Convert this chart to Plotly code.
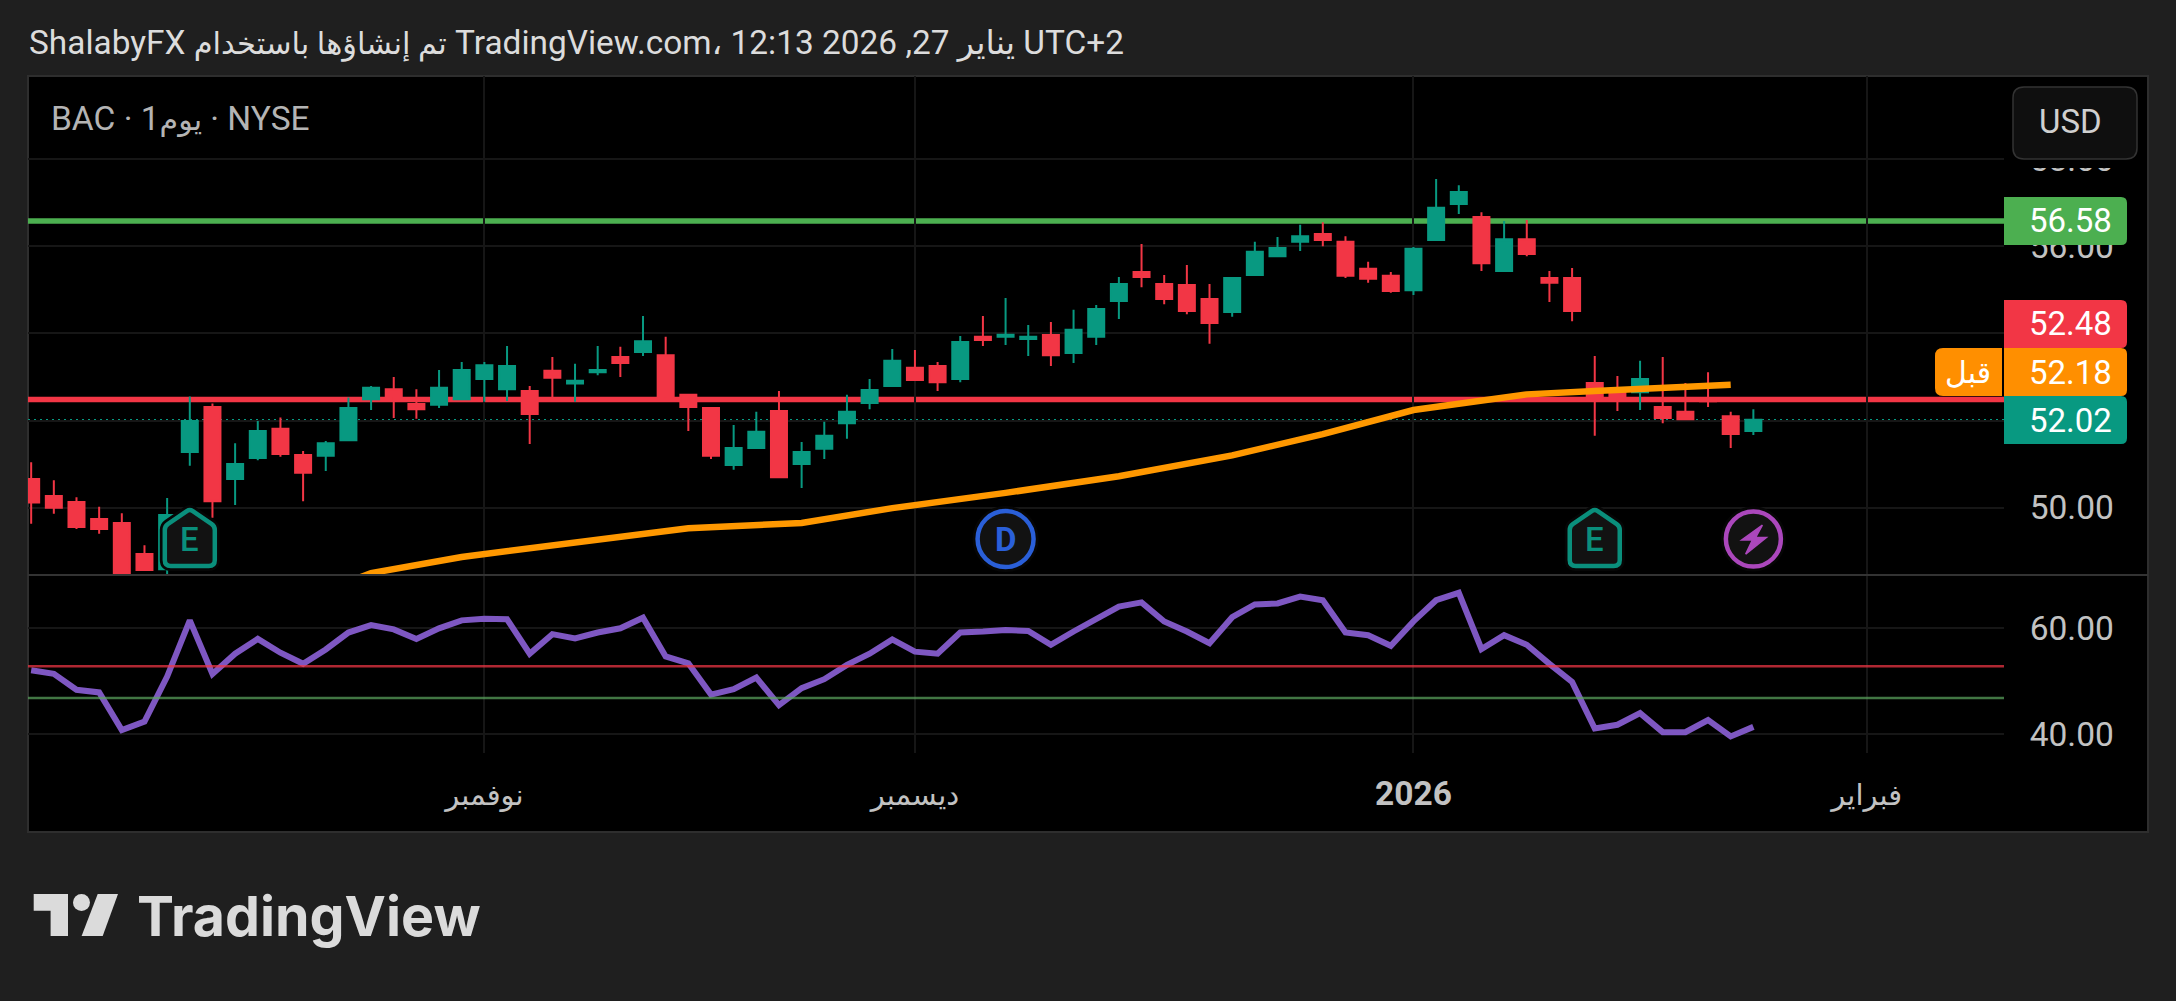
#!/usr/bin/env python3
import plotly.graph_objects as go

WIDTH = 2176
HEIGHT = 1001
FONT = "Roboto, 'Noto Sans', 'DejaVu Sans', sans-serif"

# candles, one per session
openVals = [50.66, 50.27, 50.13, 49.74, 49.65, 48.94, 48.59, 51.28, 52.31, 50.66, 51.14, 51.81, 51.21, 51.19, 51.55, 52.49, 52.72, 52.38, 52.36, 52.49,
	52.95, 52.72, 52.68, 53.14, 52.85, 53.11, 53.46, 53.57, 53.50, 52.59, 52.29, 50.98, 51.37, 52.22, 51.00, 51.35, 51.94, 52.40, 52.79, 53.21,
	53.25, 52.95, 53.92, 53.92, 53.87, 53.96, 53.55, 53.92, 54.74, 55.41, 55.13, 55.11, 54.79, 54.49, 55.34, 55.77, 56.10, 56.28, 56.10, 55.48,
	55.32, 54.99, 56.14, 56.97, 56.67, 55.43, 56.16, 55.27, 55.27, 52.86, 52.70, 52.65, 52.31, 52.20, 52.49, 52.10, 51.76]
highVals = [51.04, 50.63, 50.24, 50.02, 49.87, 49.14, 50.22, 52.55, 52.39, 51.48, 51.99, 52.07, 51.30, 51.53, 52.53, 52.79, 53.00, 52.72, 53.16, 53.34,
	53.34, 53.71, 52.79, 53.46, 53.30, 53.71, 53.69, 54.40, 53.92, 52.60, 52.29, 51.90, 52.20, 52.68, 51.51, 51.97, 52.59, 52.95, 53.64, 53.62,
	53.34, 53.94, 54.40, 54.81, 54.19, 54.26, 54.54, 54.65, 55.29, 56.05, 55.34, 55.57, 55.13, 55.29, 56.10, 56.21, 56.49, 56.55, 56.23, 55.64,
	55.41, 55.98, 57.54, 57.40, 56.78, 56.58, 56.60, 55.43, 55.50, 53.48, 53.02, 53.37, 53.46, 52.86, 53.11, 52.20, 52.26]
lowVals = [49.63, 49.86, 49.51, 49.40, 48.38, 48.56, 48.48, 50.96, 49.77, 50.06, 51.09, 51.17, 50.15, 50.84, 51.55, 52.24, 52.06, 52.04, 52.29, 52.49,
	52.43, 52.45, 51.46, 52.49, 52.43, 53.04, 53.00, 53.48, 52.52, 51.76, 51.12, 50.87, 51.37, 50.70, 50.45, 51.12, 51.58, 52.26, 52.77, 52.93,
	52.68, 52.88, 53.71, 53.73, 53.48, 53.25, 53.32, 53.73, 54.33, 55.06, 54.67, 54.44, 53.76, 54.38, 55.34, 55.77, 55.89, 56.00, 55.27, 55.16,
	54.93, 54.88, 56.12, 56.74, 55.43, 55.43, 55.77, 54.72, 54.28, 51.65, 52.22, 52.24, 51.94, 52.03, 52.31, 51.37, 51.67]
closeVals = [50.12, 50.00, 49.56, 49.51, 48.45, 48.57, 49.83, 51.99, 50.15, 51.00, 51.76, 51.23, 50.80, 51.48, 52.29, 52.75, 52.56, 52.26, 52.75, 53.16,
	53.27, 53.25, 52.15, 52.98, 52.91, 53.16, 53.32, 53.82, 52.56, 52.31, 51.19, 51.37, 51.74, 50.70, 51.28, 51.65, 52.20, 52.70, 53.37, 52.93,
	52.88, 53.80, 53.85, 53.97, 53.92, 53.50, 54.08, 54.56, 55.13, 55.29, 54.79, 54.51, 54.24, 55.27, 55.87, 55.96, 56.23, 56.14, 55.32, 55.25,
	54.97, 55.94, 56.88, 57.24, 55.61, 56.16, 55.82, 55.16, 54.51, 52.47, 52.54, 52.95, 52.06, 52.03, 52.44, 51.69, 52.02]

# moving average, read at its kinks
maIdx = [14, 15, 19, 24, 29, 34, 38, 43, 48, 53, 57, 61, 66, 69, 75]
maVals = [48.30, 48.50, 48.87, 49.21, 49.53, 49.65, 49.99, 50.34, 50.72, 51.20, 51.69, 52.24, 52.60, 52.68, 52.82]

# lower pane oscillator
rsiVals = [52.1, 51.4, 48.4, 47.9, 40.8, 42.4, 50.9, 61.5, 51.4, 55.2, 58.0, 55.4, 53.3, 56.0, 59.2, 60.6, 59.8, 58.0, 60.0, 61.5,
	61.8, 61.7, 55.2, 58.9, 58.1, 59.2, 60.0, 62.0, 54.7, 53.4, 47.5, 48.5, 50.7, 45.5, 48.7, 50.4, 53.1, 55.2, 57.9, 55.6,
	55.2, 59.2, 59.4, 59.7, 59.5, 56.9, 59.4, 61.9, 64.1, 64.9, 61.3, 59.4, 57.2, 62.1, 64.5, 64.7, 66.0, 65.3, 59.2, 58.7,
	56.7, 61.3, 65.3, 66.7, 56.1, 58.7, 56.9, 53.3, 49.9, 41.1, 41.8, 44.0, 40.4, 40.4, 42.7, 39.6, 41.4]

greenLevel = 56.58
redLevel = 52.48
lastPrice = 52.02
rsiUpper = 52.83
rsiLower = 46.85

ARABIC_SPAN = '<span style="font-size:{}px">{}</span>'

xTickIdx = [20, 39, 61, 81]
xTickText = [
	ARABIC_SPAN.format(29, 'نوفمبر'),
	ARABIC_SPAN.format(29, 'ديسمبر'),
	'<b>2026</b>',
	ARABIC_SPAN.format(29, 'فبراير'),
]
priceTicks = [50, 52, 54, 56, 58]
rsiTicks = [40, 60]

# event badges: session index
earningsIdx = [7, 69]
dividendIdx = [43]
splashIdx = [76]
badgeY = 49.28

titleText = (
	'ShalabyFX ' + ARABIC_SPAN.format(30.5, 'تم إنشاؤها باستخدام')
	+ ' TradingView.com، يناير 27, 2026 12:13 UTC+2'
)
symbolText = 'BAC · 1' + ARABIC_SPAN.format(30, 'يوم') + ' · NYSE'

RED = '#f23645'
TEAL = '#089981'
GREEN = '#4caf50'
ORANGE = '#ff8f00'
PURPLE = '#7e57c2'
TICK_COLOR = '#c2c2c2'
GRID = '#161616'


def px(x):
	return x / WIDTH


def py(y):
	return 1 - y / HEIGHT


def BoxPath(x0, y0, x1, y1, rLeft, rRight):
	# rectangle in page pixels, rounded on the chosen side
	pts = [
		f'M {px(x0 + rLeft)} {py(y0)}',
		f'L {px(x1 - rRight)} {py(y0)}',
		f'Q {px(x1)} {py(y0)} {px(x1)} {py(y0 + rRight)}',
		f'L {px(x1)} {py(y1 - rRight)}',
		f'Q {px(x1)} {py(y1)} {px(x1 - rRight)} {py(y1)}',
		f'L {px(x0 + rLeft)} {py(y1)}',
		f'Q {px(x0)} {py(y1)} {px(x0)} {py(y1 - rLeft)}',
		f'L {px(x0)} {py(y0 + rLeft)}',
		f'Q {px(x0)} {py(y0)} {px(x0 + rLeft)} {py(y0)}',
		'Z',
	]
	return ' '.join(pts)


def PageShape(path, fill, lineColor=None, lineWidth=0, layer='above'):
	return dict(
		type='path', xref='paper', yref='paper', path=path, fillcolor=fill,
		line=dict(color=lineColor or fill, width=lineWidth), layer=layer,
	)


def PageText(x, y, text, size, color, anchor='center', weight=None, family=FONT):
	return dict(
		x=px(x), y=py(y), xref='paper', yref='paper', text=text, showarrow=False,
		xanchor=anchor, yanchor='middle', borderpad=0,
		font=dict(family=family, size=size, color=color, weight=weight),
	)


def PixelShape(kind, idx, color, fill, width, path=None, r=0):
	shape = dict(
		type=kind, xref='x', yref='y', xsizemode='pixel', ysizemode='pixel',
		xanchor=idx, yanchor=badgeY, fillcolor=fill,
		line=dict(color=color, width=width), layer='above',
	)
	if kind == 'path':
		shape['path'] = path
	else:
		shape.update(x0=-r, x1=r, y0=-r, y1=r)
	return shape


HOUSE = (
	'M -3 28 Q 0 30 3 28 L 22 15 Q 25 13 25 9 L 25 -21 Q 25 -27 19 -27 '
	'L -19 -27 Q -25 -27 -25 -21 L -25 9 Q -25 13 -22 15 Z'
)
BOLT = 'M 9 14 L -11.7 -1 L -1 -1 L -7.7 -15 L 13 1.7 L 2.3 1.7 Z'

fig = go.Figure()

fig.add_trace(go.Scatter(
	x=maIdx, y=maVals, mode='lines', xaxis='x', yaxis='y',
	line=dict(color='#ff9800', width=6.5), hoverinfo='skip',
))
fig.add_trace(go.Candlestick(
	x=list(range(len(openVals))),
	open=openVals, high=highVals, low=lowVals, close=closeVals,
	xaxis='x', yaxis='y', whiskerwidth=0,
	increasing=dict(line=dict(color=TEAL, width=2), fillcolor=TEAL),
	decreasing=dict(line=dict(color=RED, width=2), fillcolor=RED),
))
fig.add_trace(go.Scatter(
	x=list(range(len(rsiVals))), y=rsiVals, mode='lines', xaxis='x2', yaxis='y2',
	line=dict(color=PURPLE, width=6), hoverinfo='skip',
))

shapes = [
	# page frame
	PageShape(BoxPath(28, 76, 2148, 832, 0, 0), '#000000', '#2e2e2e', 2, 'below'),
	# levels
	dict(type='line', xref='x domain', yref='y', x0=0, x1=1, y0=greenLevel, y1=greenLevel,
		line=dict(color=GREEN, width=5.5), layer='below'),
	dict(type='line', xref='x domain', yref='y', x0=0, x1=1, y0=redLevel, y1=redLevel,
		line=dict(color=RED, width=5.5), layer='below'),
	dict(type='line', xref='x domain', yref='y', x0=0, x1=1, y0=lastPrice, y1=lastPrice,
		line=dict(color=TEAL, width=1.5, dash='2px,4px'), layer='below'),
	dict(type='line', xref='x2 domain', yref='y2', x0=0, x1=1, y0=rsiUpper, y1=rsiUpper,
		line=dict(color='rgba(242,54,69,0.72)', width=2.5), layer='above'),
	dict(type='line', xref='x2 domain', yref='y2', x0=0, x1=1, y0=rsiLower, y1=rsiLower,
		line=dict(color='rgba(92,168,96,0.7)', width=2.5), layer='above'),
	# pane separator
	PageShape(f'M {px(28)} {py(575)} L {px(2148)} {py(575)}', 'rgba(0,0,0,0)', '#333333', 2),
	# hides the top of the 58.00 tick, as the currency button does
	PageShape(BoxPath(2005, 78, 2146, 168, 0, 0), '#000000'),
	PageShape(BoxPath(2013, 87, 2137, 159, 11, 11), '#0f0f0f', '#333333', 1.5),
	# price tags
	PageShape(BoxPath(2004, 197, 2127, 245, 0, 6), GREEN),
	PageShape(BoxPath(2004, 300, 2127, 348, 0, 6), RED),
	PageShape(BoxPath(2004, 348, 2127, 396, 0, 6), ORANGE),
	PageShape(BoxPath(2004, 396, 2127, 444, 0, 6), TEAL),
	PageShape(BoxPath(1935, 348, 2002, 396, 8, 0), ORANGE),
	# logo
	PageShape(
		f'M {px(33.7)} {py(894)} L {px(68)} {py(894)} L {px(68)} {py(936)} L {px(50.6)} {py(936)} '
		f'L {px(50.6)} {py(910.7)} L {px(33.7)} {py(910.7)} Z', '#dbdbdb'),
	PageShape(
		f'M {px(97.7)} {py(894)} L {px(118)} {py(894)} L {px(102.7)} {py(936)} L {px(81.6)} {py(936)} Z',
		'#dbdbdb'),
	dict(type='circle', xref='paper', yref='paper', x0=px(73), x1=px(90), y0=py(911), y1=py(894),
		fillcolor='#dbdbdb', line=dict(width=0), layer='above'),
]

annotations = [
	PageText(28, 43, titleText, 33.4, '#dcdcdc', 'left'),
	PageText(50, 119, symbolText, 33.5, '#b4b4b4', 'left'),
	PageText(2070, 122, 'USD', 33, '#d0d0d0'),
	PageText(2070.5, 221, '56.58', 33, '#ffffff'),
	PageText(2070.5, 324, '52.48', 33, '#ffffff'),
	PageText(2070.5, 372, '52.18', 33, '#ffffff'),
	PageText(2070.5, 420, '52.02', 33, '#ffffff'),
	PageText(1968, 372, 'قبل', 30, '#ffffff'),
	PageText(136, 915, 'TradingView', 55.5, '#dbdbdb', 'left', 700, 'Inter'),
]

for idx in earningsIdx:
	shapes.append(PixelShape('path', idx, '#060606', '#121212', 10, path=HOUSE))
	shapes.append(PixelShape('path', idx, '#0a8f7c', '#121212', 4.5, path=HOUSE))
	annotations.append(dict(x=idx, y=badgeY, xref='x', yref='y', text='E', showarrow=False,
		font=dict(family=FONT, size=33, color='#0a8f7c', weight=500)))
for idx in dividendIdx:
	shapes.append(PixelShape('circle', idx, '#060606', '#121212', 10, r=28))
	shapes.append(PixelShape('circle', idx, '#2a5fd8', '#121212', 4.5, r=28))
	annotations.append(dict(x=idx, y=badgeY, xref='x', yref='y', text='D', showarrow=False,
		font=dict(family=FONT, size=33, color='#2a5fd8', weight=700)))
for idx in splashIdx:
	shapes.append(PixelShape('circle', idx, '#060606', '#121212', 10, r=27.5))
	shapes.append(PixelShape('circle', idx, '#ab47bc', '#121212', 4.5, r=27.5))
	shapes.append(PixelShape('path', idx, '#ab47bc', '#ab47bc', 1.5, path=BOLT))

tickFont = dict(family=FONT, size=33.5, color=TICK_COLOR)
hideTick = 'rgba(0,0,0,0)'

fig.update_layout(
	autosize=False,
	width=WIDTH,
	height=HEIGHT,
	margin=dict(l=0, r=0, t=0, b=0, pad=0),
	paper_bgcolor='#1f1f1f',
	plot_bgcolor='rgba(0,0,0,0)',
	showlegend=False,
	boxmode='overlay',
	boxgap=0.294,
	boxgroupgap=0,
	hovermode=False,
	shapes=shapes,
	annotations=annotations,
	xaxis=dict(
		domain=[px(28), px(2004)], anchor='y', range=[-0.14, 87.06],
		rangeslider=dict(visible=False), tickmode='array', tickvals=xTickIdx,
		showticklabels=False, ticks='', showgrid=True, gridcolor=GRID, gridwidth=1.5,
		zeroline=False, showline=False,
	),
	xaxis2=dict(
		domain=[px(28), px(2004)], anchor='y2', matches='x',
		tickmode='array', tickvals=xTickIdx, ticktext=xTickText, tickangle=0,
		ticks='outside', ticklen=11, tickcolor=hideTick, tickfont=tickFont,
		showgrid=True, gridcolor=GRID, gridwidth=1.5, zeroline=False, showline=False,
	),
	yaxis=dict(
		domain=[py(575), py(76)], anchor='x', side='right', range=[48.456, 59.904],
		tickmode='array', tickvals=priceTicks, tickformat='.2f', tickfont=tickFont,
		ticks='outside', ticklen=18, tickcolor=hideTick,
		showgrid=True, gridcolor=GRID, gridwidth=1.5, zeroline=False, showline=False,
	),
	yaxis2=dict(
		domain=[py(753), py(575)], anchor='x2', side='right', range=[36.47, 70.06],
		tickmode='array', tickvals=rsiTicks, tickformat='.2f', tickfont=tickFont,
		ticks='outside', ticklen=18, tickcolor=hideTick,
		showgrid=True, gridcolor=GRID, gridwidth=1.5, zeroline=False, showline=False,
	),
)

fig.write_html("out.html", post_script="document.body.style.margin='0';", config=dict(displayModeBar=False))
